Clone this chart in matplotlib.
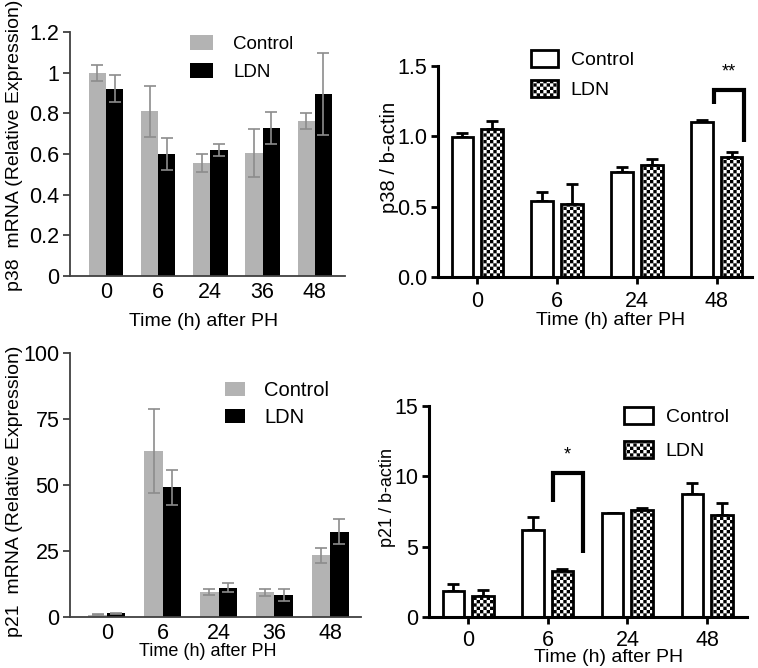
import warnings
import numpy as np
import matplotlib
matplotlib.use('Agg')
import matplotlib.pyplot as plt
import matplotlib.hatch as mhatch
from matplotlib.path import Path

warnings.filterwarnings('ignore')

#######################################
# Data
#######################################
qpcr_times = ['0', '6', '24', '36', '48']
wb_times = ['0', '6', '24', '48']

p38_mrna_ctrl = [1.00, 0.81, 0.555, 0.605, 0.762]
p38_mrna_ctrl_err = [0.04, 0.126, 0.043, 0.12, 0.04]
p38_mrna_ldn = [0.922, 0.60, 0.619, 0.728, 0.893]
p38_mrna_ldn_err = [0.065, 0.077, 0.03, 0.077, 0.202]

p38_wb_ctrl = [0.995, 0.538, 0.744, 1.10]
p38_wb_ctrl_err = [0.03, 0.064, 0.036, 0.015]
p38_wb_ldn = [1.05, 0.521, 0.796, 0.853]
p38_wb_ldn_err = [0.057, 0.143, 0.043, 0.033]

p21_mrna_ctrl = [0.8, 62.8, 9.4, 9.3, 23.4]
p21_mrna_ctrl_err = [0.2, 15.9, 1.2, 1.2, 2.9]
p21_mrna_ldn = [1.4, 49.1, 11.1, 8.2, 32.3]
p21_mrna_ldn_err = [0.3, 6.5, 1.8, 2.3, 4.8]

p21_wb_ctrl = [1.83, 6.22, 7.41, 8.76]
p21_wb_ctrl_err = [0.54, 0.91, 0.0, 0.76]
p21_wb_ldn = [1.47, 3.28, 7.58, 7.24]
p21_wb_ldn_err = [0.48, 0.16, 0.19, 0.84]

#######################################
# Checkerboard hatch ('c')
#######################################
class CheckerHatch(mhatch.HatchPatternBase):
	def __init__(self, hatch, density):
		n = int(hatch.count('c') * density)
		self.n = n + n % 2
		self.num_vertices = 5 * (self.n * self.n // 2)

	def set_vertices_and_codes(self, vertices, codes):
		s = 1.0 / self.n
		k = 0
		for i in range(self.n):
			for j in range(self.n):
				if (i + j) % 2 == 0:
					vertices[k:k+5] = [(i*s, j*s), ((i+1)*s, j*s), ((i+1)*s, (j+1)*s), (i*s, (j+1)*s), (i*s, j*s)]
					codes[k] = Path.MOVETO
					codes[k+1:k+4] = Path.LINETO
					codes[k+4] = Path.CLOSEPOLY
					k += 5

mhatch._hatch_types.append(CheckerHatch)
if hasattr(mhatch, '_validate_hatch_pattern'):
	mhatch._validate_hatch_pattern = lambda h: None

#######################################
# Figure setup
#######################################
plt.rcParams['font.family'] = ['Liberation Sans', 'DejaVu Sans']
plt.rcParams['hatch.linewidth'] = 0.01
plt.rcParams['hatch.color'] = 'black'

W, H = 758, 668
fig = plt.figure(figsize=(W/100, H/100), dpi=100)

def px_axes(l, r, t, b):
	return fig.add_axes([l/W, 1 - b/H, (r - l)/W, (b - t)/H])

def fpos(x, y):
	return (x/W, 1 - y/H)

GREY = '#b3b3b3'
ERR_GREY = '#8c8c8c'

#######################################
# qPCR panels (left)
#######################################
def qpcr_panel(ax, ctrl, ctrl_err, ldn, ldn_err, times, ylim, yticks, yticklabels, xpad):
	x = np.arange(len(times))
	w = 0.33
	ax.bar(x - w/2, ctrl, w, color=GREY, label='Control', zorder=2)
	ax.bar(x + w/2, ldn, w, color='black', label='LDN', zorder=2)
	ax.errorbar(x - w/2, ctrl, yerr=ctrl_err, fmt='none', ecolor=ERR_GREY, elinewidth=1.2, capsize=4, capthick=1.2, zorder=3)
	ax.errorbar(x + w/2, ldn, yerr=ldn_err, fmt='none', ecolor=ERR_GREY, elinewidth=1.2, capsize=4, capthick=1.2, zorder=3)
	ax.set_ylim(ylim)
	ax.set_yticks(yticks)
	ax.set_yticklabels(yticklabels)
	ax.set_xticks(x)
	ax.set_xticklabels(times)
	for s in ['top', 'right']:
		ax.spines[s].set_visible(False)
	for s in ['left', 'bottom']:
		ax.spines[s].set_color('#404040')
		ax.spines[s].set_linewidth(1.3)
	ax.tick_params(axis='y', direction='out', length=5, width=1.3, color='#404040', labelsize=15.5, pad=2.5)
	ax.tick_params(axis='x', length=0, labelsize=15.5, pad=xpad)

ax1 = px_axes(70, 345, 32, 276)
qpcr_panel(ax1, p38_mrna_ctrl, p38_mrna_ctrl_err, p38_mrna_ldn, p38_mrna_ldn_err, qpcr_times,
	(0, 1.2), [0, 0.2, 0.4, 0.6, 0.8, 1.0, 1.2], ['0', '0.2', '0.4', '0.6', '0.8', '1', '1.2'], 4)
ax1.set_xlim(-0.69, 4.58)
ax1.set_ylabel('p38  mRNA (Relative Expression)', fontsize=14)
ax1.yaxis.set_label_coords(-0.171, 0.537)
ax1.set_xlabel('Time (h) after PH', fontsize=14)
ax1.xaxis.set_label_coords(0.484, -0.152)
ax1.legend(loc='upper left', bbox_to_anchor=fpos(190, 35), bbox_transform=fig.transFigure,
	frameon=False, fontsize=13.5, handlelength=1.2, handleheight=0.85, handletextpad=1.1,
	labelspacing=0.55, borderpad=0, borderaxespad=0)

ax3 = px_axes(70, 361, 353, 617)
qpcr_panel(ax3, p21_mrna_ctrl, p21_mrna_ctrl_err, p21_mrna_ldn, p21_mrna_ldn_err, qpcr_times,
	(0, 100), [0, 25, 50, 75, 100], ['0', '25', '50', '75', '100'], 4)
ax3.set_xlim(-0.66, 4.55)
ax3.set_ylabel('p21  mRNA (Relative Expression)', fontsize=14)
ax3.yaxis.set_label_coords(-0.1615, 0.477)
ax3.set_xlabel('Time (h) after PH', fontsize=13)
ax3.xaxis.set_label_coords(0.474, -0.1)
ax3.legend(loc='upper left', bbox_to_anchor=fpos(225, 381), bbox_transform=fig.transFigure,
	frameon=False, fontsize=14.5, handlelength=1.0, handleheight=0.72, handletextpad=0.95,
	labelspacing=0.4, borderpad=0, borderaxespad=0)

#######################################
# Western blot panels (right)
#######################################
def wb_panel(ax, ctrl, ctrl_err, ldn, ldn_err, times, ylim, yticks, yticklabels, xpad):
	x = np.arange(len(times))
	w = 0.27
	off = 0.185
	ax.bar(x - off, ctrl, w, color='white', edgecolor='black', linewidth=2, label='Control', zorder=2)
	ax.bar(x + off, ldn, w, color='white', edgecolor='black', linewidth=2, hatch='ccccc', label='LDN', zorder=2)
	ax.errorbar(x - off, ctrl, yerr=[np.zeros(len(ctrl)), ctrl_err], fmt='none', ecolor='black', elinewidth=2, capsize=4, capthick=2, zorder=1)
	ax.errorbar(x + off, ldn, yerr=[np.zeros(len(ldn)), ldn_err], fmt='none', ecolor='black', elinewidth=2, capsize=4, capthick=2, zorder=1)
	ax.set_ylim(ylim)
	ax.set_yticks(yticks)
	ax.set_yticklabels(yticklabels)
	ax.set_xticks(x)
	ax.set_xticklabels(times)
	for s in ['top', 'right']:
		ax.spines[s].set_visible(False)
	for s in ['left', 'bottom']:
		ax.spines[s].set_linewidth(2.2)
	ax.tick_params(axis='both', direction='out', length=5, width=2, labelsize=15.5, pad=3)
	ax.tick_params(axis='x', pad=xpad)

def bracket(ax, x0, x1, y0, ytop, y1, label):
	ax.plot([x0, x0, x1, x1], [y0, ytop, ytop, y1], color='black', lw=3, solid_capstyle='butt', solid_joinstyle='miter', clip_on=False)
	ax.text((x0 + x1)/2, ytop + (ax.get_ylim()[1] - ax.get_ylim()[0])*0.045, label, ha='center', va='bottom', fontsize=13)

ax2 = px_axes(438, 752, 66, 277)
wb_panel(ax2, p38_wb_ctrl, p38_wb_ctrl_err, p38_wb_ldn, p38_wb_ldn_err, wb_times,
	(0, 1.5), [0, 0.5, 1.0, 1.5], ['0.0', '0.5', '1.0', '1.5'], 5)
ax2.set_xlim(-0.49, 3.44)
ax2.set_ylabel('p38 / b-actin', fontsize=14.5)
ax2.yaxis.set_label_coords(-0.124, 0.565)
ax2.set_xlabel('Time (h) after PH', fontsize=14)
ax2.xaxis.set_label_coords(0.548, -0.166)
bracket(ax2, 2.96, 3.34, 1.232, 1.327, 0.96, '**')
ax2.legend(loc='upper left', bbox_to_anchor=fpos(531, 50), bbox_transform=fig.transFigure,
	frameon=False, fontsize=14, handlelength=1.4, handleheight=0.95, handletextpad=0.65,
	labelspacing=0.55, borderpad=0, borderaxespad=0)

ax4 = px_axes(429, 747, 406, 617)
wb_panel(ax4, p21_wb_ctrl, p21_wb_ctrl_err, p21_wb_ldn, p21_wb_ldn_err, wb_times,
	(0, 15), [0, 5, 10, 15], ['0', '5', '10', '15'], 4)
ax4.set_xlim(-0.49, 3.5)
ax4.set_ylabel('p21 / b-actin', fontsize=13)
ax4.yaxis.set_label_coords(-0.105, 0.566)
ax4.set_xlabel('Time (h) after PH', fontsize=14)
ax4.xaxis.set_label_coords(0.566, -0.152)
bracket(ax4, 1.06, 1.44, 8.19, 10.21, 4.58, '*')
ax4.legend(loc='upper left', bbox_to_anchor=fpos(624, 407), bbox_transform=fig.transFigure,
	frameon=False, fontsize=14, handlelength=1.5, handleheight=1.0, handletextpad=0.65,
	labelspacing=0.75, borderpad=0, borderaxespad=0)

fig.savefig('out.png', dpi=100)
